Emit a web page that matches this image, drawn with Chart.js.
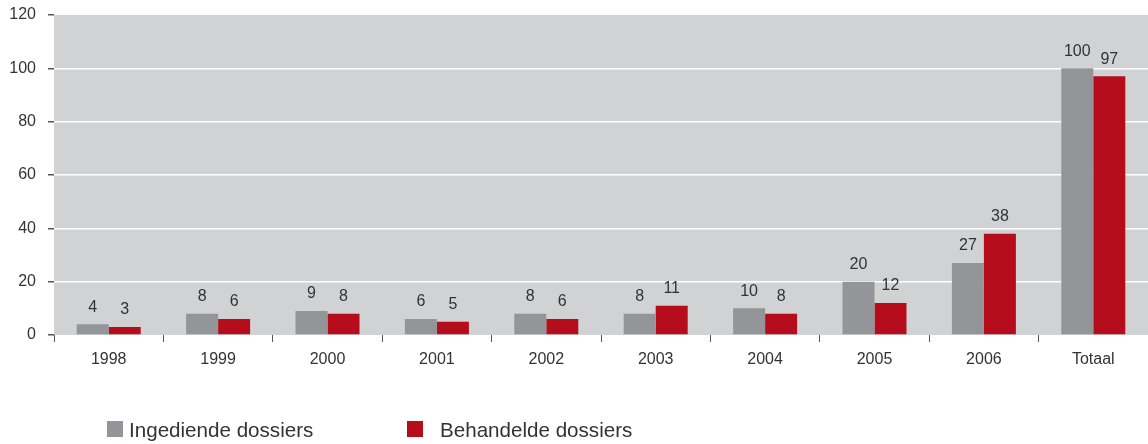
<!DOCTYPE html>
<html>
<head>
<meta charset="utf-8">
<script src="https://cdn.jsdelivr.net/npm/chart.js@4.4.1/dist/chart.umd.min.js"></script>
<style>
  html, body { margin: 0; padding: 0; background: #fff; }
  #wrap { position: relative; width: 1148px; height: 444px; }
  .legend-item { position: absolute; top: 418px; font: 20.6px "Liberation Sans", Arial, sans-serif; color: #333; white-space: nowrap; }
  .legend-item span.box { position: absolute; top: 3px; width: 16px; height: 16px; }
</style>
</head>
<body>
<div id="wrap">
  <canvas id="chart" width="1148" height="444"></canvas>
  <div class="legend-item" style="left:107px"><span class="box" style="left:0;background:#939598"></span><span style="position:absolute;left:22px">Ingediende dossiers</span></div>
  <div class="legend-item" style="left:407px"><span class="box" style="left:0;background:#b50d1c"></span><span style="position:absolute;left:33px">Behandelde dossiers</span></div>
</div>
<script>
const categories = ['1998', '1999', '2000', '2001', '2002', '2003', '2004', '2005', '2006', 'Totaal'];
const ingediend = [4, 8, 9, 6, 8, 8, 10, 20, 27, 100];
const behandeld = [3, 6, 8, 5, 6, 11, 8, 12, 38, 97];
const yTicks = [0, 20, 40, 60, 80, 100, 120];

const fontFamily = '"Liberation Sans", Arial, sans-serif';

// grey plot background
const plotBackground = {
    id: 'plotBackground',
    beforeDraw(chart) {
        const { ctx, chartArea } = chart;
        ctx.save();
        ctx.fillStyle = '#d1d2d4';
        ctx.fillRect(chartArea.left, chartArea.top, chartArea.right - chartArea.left, chartArea.bottom - chartArea.top);
        ctx.restore();
    }
};

// value labels above bars
const valueLabels = {
    id: 'valueLabels',
    afterDatasetsDraw(chart) {
        const ctx = chart.ctx;
        ctx.save();
        ctx.font = '16px ' + fontFamily;
        ctx.fillStyle = '#333';
        ctx.textAlign = 'center';
        ctx.textBaseline = 'bottom';
        chart.data.datasets.forEach((ds, i) => {
            chart.getDatasetMeta(i).data.forEach((bar, j) => {
                ctx.fillText(ds.data[j], bar.x, bar.y - 9);
            });
        });
        ctx.restore();
    }
};

new Chart(document.getElementById('chart').getContext('2d'), {
    type: 'bar',
    data: {
        labels: categories,
        datasets: [
            { label: 'Ingediende dossiers', data: ingediend, backgroundColor: '#939598' },
            { label: 'Behandelde dossiers', data: behandeld, backgroundColor: '#b50d1c' }
        ]
    },
    options: {
        responsive: false,
        animation: false,
        devicePixelRatio: 1,
        layout: { padding: { top: 15, right: 0, left: 0, bottom: 0 } },
        plugins: { legend: { display: false }, tooltip: { enabled: false } },
        datasets: { bar: { categoryPercentage: 0.585, barPercentage: 1 } },
        scales: {
            x: {
                grid: { offset: true, drawOnChartArea: false, drawTicks: true, tickLength: 7, tickColor: '#555' },
                border: { display: false },
                ticks: { color: '#333', font: { family: fontFamily, size: 16 }, padding: 8 },
                afterFit(scale) { scale.height = 109; scale.paddingLeft = 0; scale.paddingRight = 0; }
            },
            y: {
                min: 0,
                max: 120,
                afterBuildTicks(scale) { scale.ticks = yTicks.map(v => ({ value: v })); },
                grid: {
                    color: c => (c.tick && (c.tick.value === 0 || c.tick.value === 120)) ? 'rgba(0,0,0,0)' : '#ffffff',
                    lineWidth: 1.5,
                    tickLength: 6,
                    tickColor: '#555'
                },
                border: { display: false },
                ticks: { color: '#333', font: { family: fontFamily, size: 16 }, padding: 12 },
                afterFit(scale) { scale.width = 54; scale.paddingTop = 0; scale.paddingBottom = 0; }
            }
        }
    },
    plugins: [plotBackground, valueLabels]
});
</script>
</body>
</html>
